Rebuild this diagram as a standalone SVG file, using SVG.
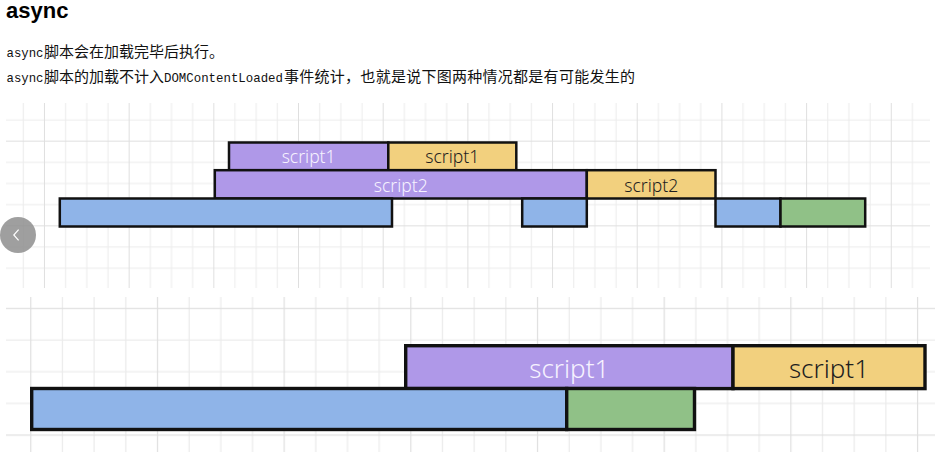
<svg xmlns="http://www.w3.org/2000/svg" width="944" height="452" viewBox="0 0 944 452">
<style>
.title{font-family:"Liberation Sans",Arial,sans-serif;font-weight:bold;font-size:22px;fill:#000}
.mono{font-family:"Liberation Mono","Courier New",monospace;font-size:13.5px;fill:#111}
.cjk{font-family:"Noto Sans CJK SC","Noto Sans",sans-serif;font-size:15px;fill:#111}
.bar{stroke:#111;stroke-linejoin:miter}
.top .bar{stroke-width:2.5}
.bot .bar{stroke-width:3.4}
.pu{fill:#af98e8}
.ye{fill:#f2d07e}
.bl{fill:#8fb4e8}
.gr{fill:#90c187}
.lbl{font-family:"Noto Sans","Open Sans",sans-serif;font-weight:300;text-anchor:middle}
.lw{fill:#f6f2ff}
.ld{fill:#1e1e1e}
.s1{font-size:17.5px}
.s2{font-size:26px}
.gl{fill:#ebebeb}
.gd{fill:#dfdfdf}
</style>
<defs>
<pattern id="gridA" patternUnits="userSpaceOnUse" x="43.97" y="140.67" width="84.68" height="84.68">
<rect class="gl" x="21.17" y="0" width="1" height="84.68"/>
<rect class="gl" x="42.34" y="0" width="1" height="84.68"/>
<rect class="gl" x="63.51" y="0" width="1" height="84.68"/>
<rect class="gl" x="0" y="21.17" width="84.68" height="1"/>
<rect class="gl" x="0" y="42.34" width="84.68" height="1"/>
<rect class="gl" x="0" y="63.51" width="84.68" height="1"/>
<rect class="gd" x="0" y="0" width="1" height="84.68"/>
<rect class="gd" x="0" y="0" width="84.68" height="1"/>
</pattern>
<pattern id="gridB" patternUnits="userSpaceOnUse" x="30.2" y="307.8" width="126.68" height="126.68">
<rect class="gl" x="31.67" y="0" width="1.2" height="126.68"/>
<rect class="gl" x="63.34" y="0" width="1.2" height="126.68"/>
<rect class="gl" x="95.01" y="0" width="1.2" height="126.68"/>
<rect class="gl" x="0" y="31.67" width="126.68" height="1.2"/>
<rect class="gl" x="0" y="63.34" width="126.68" height="1.2"/>
<rect class="gl" x="0" y="95.01" width="126.68" height="1.2"/>
<rect class="gd" x="0" y="0" width="1.2" height="126.68"/>
<rect class="gd" x="0" y="0" width="126.68" height="1.2"/>
</pattern>
</defs>
<rect width="944" height="452" fill="#fff"/>

<g id="heading">
<text class="title" x="6" y="17.5">async</text>
<text y="57"><tspan class="mono" x="6.5" textLength="37" lengthAdjust="spacingAndGlyphs">async</tspan><tspan class="cjk" x="44">脚本会在加载完毕后执行。</tspan></text>
<text y="82"><tspan class="mono" x="6.5" textLength="37" lengthAdjust="spacingAndGlyphs">async</tspan><tspan class="cjk" x="44">脚本的加载不计入</tspan><tspan class="mono" x="164" textLength="119" lengthAdjust="spacingAndGlyphs">DOMContentLoaded</tspan><tspan class="cjk" x="284" textLength="351" lengthAdjust="spacing">事件统计，也就是说下图两种情况都是有可能发生的</tspan></text>
</g>

<g id="grid-top"><rect x="6" y="103" width="924" height="185" fill="url(#gridA)"/></g>
<g id="grid-bottom"><rect x="6" y="297" width="929" height="155" fill="url(#gridB)"/></g>

<g class="top">
<g id="t-script1-load"><rect class="bar pu" x="229" y="142.5" width="159.3" height="27.7"/><text class="lbl lw s1" x="308.6" y="163.3">script1</text></g>
<g id="t-script1-exec"><rect class="bar ye" x="388.3" y="142.5" width="128" height="27.7"/><text class="lbl ld s1" x="452.3" y="163.3">script1</text></g>
<g id="t-script2-load"><rect class="bar pu" x="214.8" y="170.2" width="372" height="28.3"/><text class="lbl lw s1" x="400.8" y="191.6">script2</text></g>
<g id="t-script2-exec"><rect class="bar ye" x="586.8" y="170.2" width="128.7" height="28.3"/><text class="lbl ld s1" x="651.2" y="191.6">script2</text></g>
<g id="t-html-1"><rect class="bar bl" x="59.8" y="198.5" width="332.2" height="28"/></g>
<g id="t-html-2"><rect class="bar bl" x="522.2" y="198.5" width="64.6" height="28"/></g>
<g id="t-html-3"><rect class="bar bl" x="715.5" y="198.5" width="65" height="28"/></g>
<g id="t-dcl"><rect class="bar gr" x="780.5" y="198.5" width="84.7" height="28"/></g>
</g>

<g id="nav-prev">
<circle cx="18" cy="235" r="18" fill="#8e8e8e" opacity="0.85"/>
<polyline points="18.6,229.6 13.8,235 18.6,240.4" fill="none" stroke="#fff" stroke-width="1.2"/>
</g>

<g class="bot">
<g id="b-script1-load"><rect class="bar pu" x="405.7" y="345.7" width="327.3" height="42.9"/><text class="lbl lw s2" x="569.3" y="377.6">script1</text></g>
<g id="b-script1-exec"><rect class="bar ye" x="733" y="345.7" width="192" height="42.9"/><text class="lbl ld s2" x="829" y="377.6">script1</text></g>
<g id="b-html"><rect class="bar bl" x="31.7" y="388.5" width="535" height="41"/></g>
<g id="b-dcl"><rect class="bar gr" x="566.7" y="388.5" width="127.8" height="41"/></g>
</g>

<g id="connectors"/>
</svg>
